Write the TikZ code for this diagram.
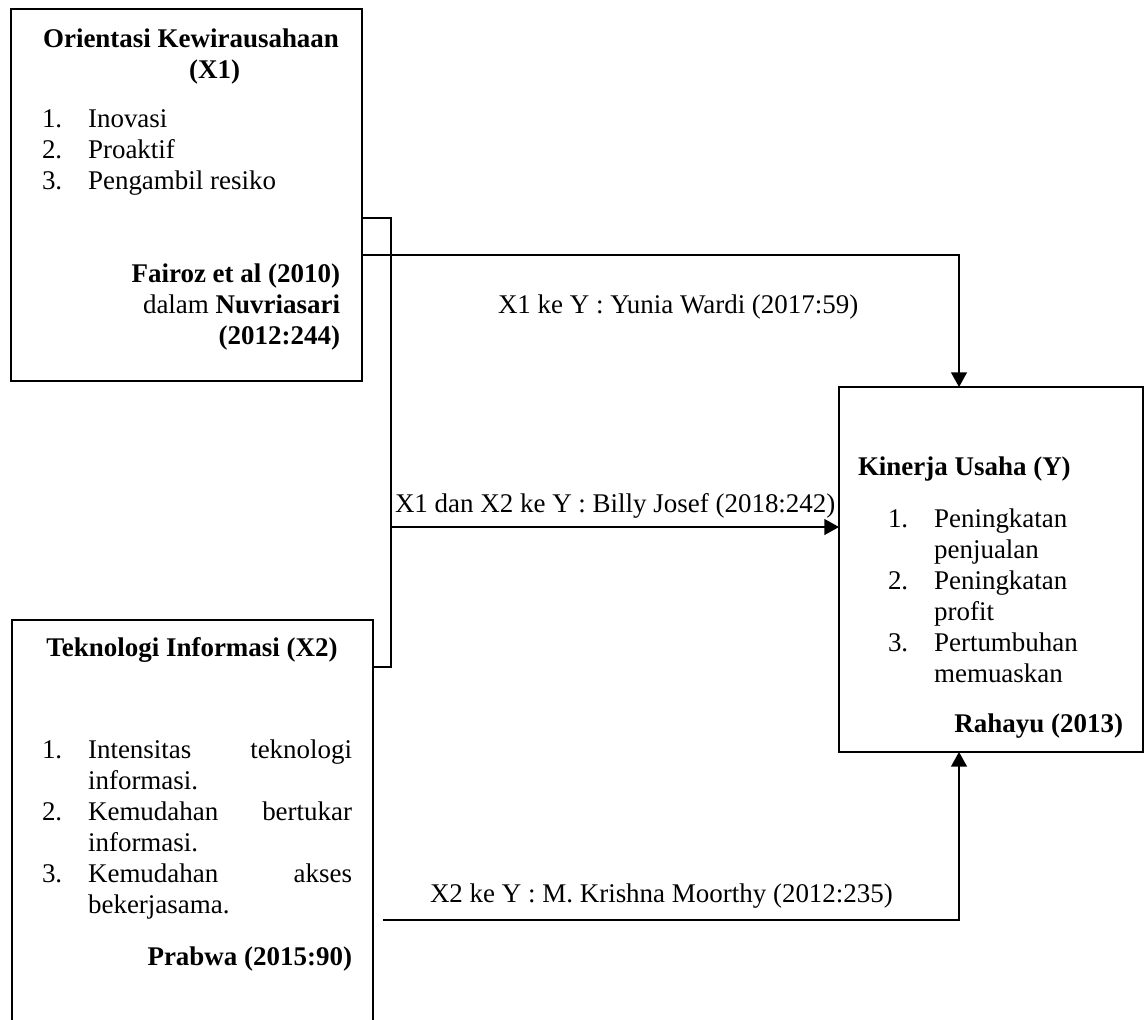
\documentclass[tikz,border=0pt]{standalone}
\usepackage{fontspec}
\setmainfont{Liberation Serif}
\usetikzlibrary{arrows.meta}

\newcommand{\barisrata}[2]{\makebox[117.5pt]{#1\hfill #2}}

\begin{document}
\begin{tikzpicture}[
        x=0.445pt, y=-0.445pt,
        font=\fontsize{12}{13.8}\selectfont,
    ]

    \tikzstyle{kotak} = [draw, line width=0.9pt, inner sep=0pt, outer sep=0pt];
    \tikzstyle{teks} = [inner sep=0pt, outer sep=0pt];
    \tikzstyle{garis} = [line width=0.8pt];
    \tikzstyle{panah} = [garis, -{Triangle[length=6.5pt, width=7pt]}];

    \useasboundingbox (0,0) rectangle (1146,1019);

    % Boxes
    \node[kotak, anchor=north west, minimum width=156.2pt, minimum height=165.5pt] (orientasi) at (11,9) {};
    \node[kotak, anchor=north west, minimum width=160.6pt, minimum height=181pt] (teknologi) at (12,620) {};
    \node[kotak, anchor=north west, minimum width=135.3pt, minimum height=162.4pt] (kinerja) at (839,387) {};

    % Texts of X1
    \node[teks, anchor=base] (judulX1) at (191,47)
        {\begin{tabular}[t]{@{}c@{}}\bfseries Orientasi Kewirausahaan\\\bfseries\hspace*{21pt}(X1)\end{tabular}};
    \node[teks, anchor=base west] (butirX1) at (42,127)
        {\begin{tabular}[t]{@{}p{20.5pt}@{}l@{}}1. & Inovasi\\2. & Proaktif\\3. & Pengambil resiko\end{tabular}};
    \node[teks, anchor=base east] (sumberX1) at (340,282)
        {\begin{tabular}[t]{@{}r@{}}\textbf{Fairoz et al (2010)}\\dalam \textbf{Nuvriasari}\\\textbf{(2012:244)}\end{tabular}};

    % Texts of X2
    \node[teks, anchor=base] (judulX2) at (192,656) {\textbf{Teknologi Informasi (X2)}};
    \node[teks, anchor=base west] (butirX2) at (42,758)
        {\begin{tabular}[t]{@{}p{20.5pt}@{}l@{}}
            1. & \barisrata{Intensitas}{teknologi}\\
               & informasi.\\
            2. & \barisrata{Kemudahan}{bertukar}\\
               & informasi.\\
            3. & \barisrata{Kemudahan}{akses}\\
               & bekerjasama.
        \end{tabular}};
    \node[teks, anchor=base east] (sumberX2) at (352,965) {\textbf{Prabwa (2015:90)}};

    % Texts of Y
    \node[teks, anchor=base west] (judulY) at (858,475) {\textbf{Kinerja Usaha (Y)}};
    \node[teks, anchor=base west] (butirY) at (888,527)
        {\begin{tabular}[t]{@{}p{20.5pt}@{}l@{}}
            1. & Peningkatan\\
               & penjualan\\
            2. & Peningkatan\\
               & profit\\
            3. & Pertumbuhan\\
               & memuaskan
        \end{tabular}};
    \node[teks, anchor=base east] (sumberY) at (1123,732) {\textbf{Rahayu (2013)}};

    % Corners
    \coordinate (siku1) at (391,218);
    \coordinate (siku2) at (391,667);
    \coordinate (cabang) at (391,527);
    \coordinate (belok) at (959,255);
    \coordinate (awalX2) at (383,920);

    % Arrows
    \draw[garis] (orientasi.east |- siku1) -- (siku1) -- (siku2) -- (teknologi.east |- siku2);
    \draw[panah] (orientasi.east |- belok) -- (belok) -- (belok |- kinerja.north);
    \draw[panah] (cabang) -- (cabang -| kinerja.west);
    \draw[panah] (awalX2) -| (belok |- kinerja.south);

    % Labels
    \node[teks, anchor=base west] (labelA) at (498,313) {X1 ke Y : Yunia Wardi (2017:59)};
    \node[teks, anchor=base west] (labelB) at (395,512) {X1 dan X2 ke Y : Billy Josef (2018:242)};
    \node[teks, anchor=base west] (labelC) at (430,902) {X2 ke Y : M. Krishna Moorthy (2012:235)};

\end{tikzpicture}
\end{document}
